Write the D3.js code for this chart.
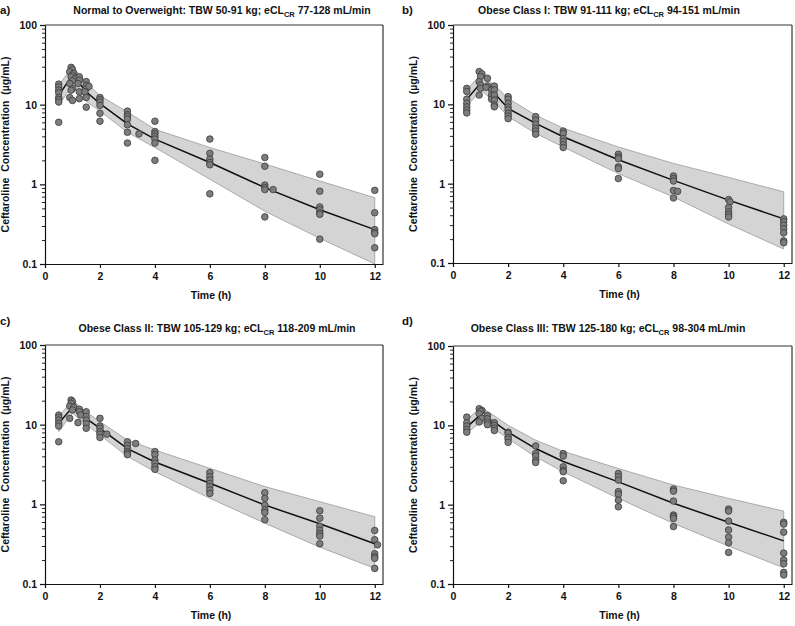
<!DOCTYPE html>
<html><head><meta charset="utf-8">
<script src="https://cdn.jsdelivr.net/npm/d3@7/dist/d3.min.js"></script>
<style>body{margin:0;background:#fff;}svg{display:block;font-family:"Liberation Sans",Arial,sans-serif;}</style>
</head><body>
<svg id="chart" width="795" height="626"></svg>
<script>
// ---------- data ----------
const predTimes = [0.5, 1, 1.5, 2, 3, 4, 6, 8, 10, 12];
const xTicks = [0, 2, 4, 6, 8, 10, 12];
const yTicks = [0.1, 1, 10, 100];
const yTickLabels = ["0.1", "1", "10", "100"];

const panelLabels = ["a)", "b)", "c)", "d)"];
const titleMain = ["Normal to Overweight: TBW 50-91 kg; eCL", "Obese Class I: TBW 91-111 kg; eCL", "Obese Class II: TBW 105-129 kg; eCL", "Obese Class III: TBW 125-180 kg; eCL"];
const titleSub = ["CR", "CR", "CR", "CR"];
const titleTail = [" 77-128 mL/min", " 94-151 mL/min", " 118-209 mL/min", " 98-304 mL/min"];

// Model median and 90% prediction interval
const medianA = [13.1, 23.5, 14.5, 10.3, 5.75, 3.7, 1.88, 0.91, 0.48, 0.27];
const upperA  = [17.6, 30.0, 19.0, 13.0, 8.1, 4.9, 2.9, 1.8, 1.1, 0.68];
const lowerA  = [9.8, 17.6, 11.0, 8.3, 4.5, 2.9, 1.16, 0.46, 0.21, 0.10];

const medianB = [11.6, 18.4, 13.8, 8.9, 5.75, 3.9, 2.0, 1.1, 0.62, 0.36];
const upperB  = [15.2, 23.6, 17.5, 11.9, 7.3, 5.0, 2.9, 1.8, 1.2, 0.79];
const lowerB  = [9.3, 15.2, 10.8, 7.0, 4.3, 2.9, 1.34, 0.68, 0.31, 0.15];

const medianC = [10.4, 16.5, 12.0, 9.0, 5.0, 3.4, 1.84, 0.98, 0.57, 0.32];
const upperC  = [12.6, 20.4, 14.5, 10.9, 6.4, 4.8, 2.83, 1.67, 1.08, 0.70];
const lowerC  = [8.2, 13.9, 10.0, 7.4, 4.0, 2.57, 1.19, 0.58, 0.29, 0.157];

const medianD = [9.5, 13.6, 11.0, 8.2, 5.1, 3.5, 1.94, 1.04, 0.60, 0.35];
const upperD  = [11.6, 17.0, 13.2, 10.0, 6.5, 4.7, 2.86, 1.77, 1.2, 0.83];
const lowerD  = [7.9, 11.0, 9.0, 6.8, 4.0, 2.6, 1.2, 0.58, 0.30, 0.16];

// Observed concentrations [time (h), conc (ug/mL)]
const obsA = [
 [0.5,18.1],[0.5,16.7],[0.5,15.2],[0.5,14.1],[0.5,12.3],[0.5,11.6],[0.5,10.8],[0.5,6.0],
 [0.95,29.4],[1.0,27.7],[0.9,25.9],[1.05,24.7],[1.0,23.5],[0.95,22.4],[1.1,21.3],[1.0,19.9],[0.9,18.4],[1.0,15.9],[0.95,15.2],[0.9,12.3],[1.0,11.3],
 [1.25,22.4],[1.25,20.3],[1.2,18.4],[1.25,14.5],[1.25,11.9],
 [1.5,19.5],[1.5,17.5],[1.5,15.9],[1.45,14.5],[1.5,12.3],[1.5,9.3],[1.6,17.0],
 [2,12.3],[2,11.6],[2,10.8],[2,9.8],[2,7.8],[2,6.2],
 [3,8.3],[3,7.5],[3,7.1],[3,6.6],[3,5.6],[3,4.5],[3,3.3],[3.42,4.3],
 [4,6.2],[4,4.6],[4,4.3],[4,4.0],[4,3.7],[4,3.3],[4,2.0],
 [6,3.7],[6,2.45],[6,2.07],[6,1.88],[6,1.76],[6,0.76],
 [8,2.17],[8,1.69],[8,0.98],[8,0.91],[8,0.86],[8,0.39],[8.3,0.86],
 [10,1.34],[10,0.82],[10,0.52],[10,0.48],[10,0.44],[10,0.42],[10,0.205],
 [12,0.84],[12,0.44],[12,0.27],[12,0.25],[12,0.24],[12,0.16]
];
const obsB = [
 [0.5,15.9],[0.5,14.5],[0.5,11.6],[0.5,10.3],[0.5,9.3],[0.5,8.5],[0.5,7.8],
 [0.95,25.9],[1.05,24.2],[1.0,22.4],[0.95,19.3],[1.0,17.5],[1.0,15.9],[0.95,13.1],
 [1.25,21.3],[1.25,17.0],[1.2,16.4],
 [1.4,15.2],[1.4,13.1],[1.4,11.6],
 [1.5,17.0],[1.5,15.2],[1.5,13.1],[1.5,11.3],[1.5,9.8],[1.5,9.3],
 [2,12.5],[2,11.6],[2,10.3],[2,9.2],[2,8.5],[2,7.7],[2,7.1],[2,6.6],
 [3,7.0],[3,6.3],[3,5.6],[3,5.0],[3,4.6],[3,4.2],
 [4,4.6],[4,4.3],[4,3.7],[4,3.4],[4,3.1],[4,2.85],
 [6,2.35],[6,2.17],[6,2.07],[6,1.63],[6,1.55],[6,1.16],
 [8,1.25],[8,1.16],[8,1.08],[8,0.82],[8.15,0.80],[8,0.66],
 [10,0.63],[10.05,0.59],[10,0.50],[10,0.44],[10,0.41],[10,0.38],
 [12,0.36],[12,0.33],[12,0.30],[12,0.27],[12,0.24],[12,0.19],[12,0.18]
];
const obsC = [
 [0.5,13.2],[0.5,12.3],[0.5,11.4],[0.5,10.4],[0.5,9.6],[0.5,6.1],
 [0.95,20.4],[1.0,19.4],[0.95,18.5],[0.9,17.1],[1.05,16.5],[1.0,15.3],[0.9,12.0],
 [1.25,15.6],[1.25,14.5],[1.3,13.2],[1.2,10.6],
 [1.5,14.5],[1.5,12.6],[1.5,11.4],[1.5,10.2],[1.5,9.0],
 [2,12.0],[2,9.6],[2,9.0],[2,8.2],[2,7.6],[2,6.9],[2.25,7.6],
 [3,6.1],[3,5.5],[3,5.0],[3,4.6],[3,4.4],[3,4.2],[3.3,5.8],
 [4,4.6],[4,4.2],[4,3.6],[4,3.27],[4,2.97],[4,2.75],
 [6,2.5],[6,2.22],[6,2.02],[6,1.83],[6,1.67],[6,1.51],[6,1.37],
 [8,1.40],[8,1.19],[8,0.98],[8,0.85],[8,0.79],[8,0.64],
 [10,0.83],[10,0.67],[10,0.53],[10,0.47],[10,0.43],[10,0.40],[10,0.32],
 [12,0.47],[12,0.36],[12.1,0.31],[12,0.24],[12,0.22],[12,0.21],[12,0.157]
];
const obsD = [
 [0.5,12.7],[0.5,10.8],[0.5,9.8],[0.5,8.9],[0.5,8.2],
 [0.95,16.2],[1.05,15.4],[1.0,15.0],[0.95,14.0],[1.05,12.3],[0.95,11.0],
 [1.25,13.3],[1.25,12.1],[1.25,11.0],[1.25,10.2],
 [1.5,10.8],[1.5,10.0],[1.5,9.2],[1.5,8.6],
 [2,8.2],[2,7.9],[2,7.1],[2,6.7],[2,6.1],
 [3,5.5],[3,4.4],[3,4.1],[3,3.6],[3,3.4],
 [4,4.4],[4,4.1],[4,3.0],[4,2.7],[4,2.6],[4,2.0],
 [6,2.47],[6,2.25],[6,2.04],[6,1.46],[6,1.35],[6,1.14],[6,0.94],
 [8,1.57],[8,1.48],[8,1.11],[8,0.74],[8,0.71],[8,0.67],[8,0.53],
 [10,0.88],[10,0.83],[10,0.62],[10,0.48],[10,0.39],[10,0.33],[10,0.25],
 [12,0.60],[12,0.57],[12,0.45],[12,0.245],[12,0.20],[12,0.18],[12,0.14],[12,0.13]
];

const medians = [medianA, medianB, medianC, medianD];
const uppers = [upperA, upperB, upperC, upperD];
const lowers = [lowerA, lowerB, lowerC, lowerD];
const observed = [obsA, obsB, obsC, obsD];

// ---------- layout ----------
const panels = [
  {left: 45, right: 383, top: 25, bottom: 264, tx: 222, ty: 14, lx: 0, ly: 14},
  {left: 453, right: 792, top: 25, bottom: 263, tx: 609, ty: 14, lx: 402, ly: 14},
  {left: 45, right: 383, top: 345, bottom: 584, tx: 217, ty: 332, lx: 0, ly: 325},
  {left: 453, right: 792, top: 346, bottom: 584, tx: 608, ty: 332, lx: 402, ly: 325}
];

const svg = d3.select("#chart");
const FONT = "Liberation Sans, Arial, sans-serif";

panels.forEach((p, i) => {
  const x = d3.scaleLinear().domain([0, 12.3]).range([p.left, p.right]);
  const y = d3.scaleLog().domain([0.1, 100]).range([p.bottom, p.top]);
  const g = svg.append("g");

  // band
  const band = predTimes.map((t, k) => ({t, lo: lowers[i][k], hi: uppers[i][k]}));
  g.append("path").datum(band)
    .attr("d", d3.area().x(d => x(d.t)).y0(d => y(d.lo)).y1(d => y(d.hi)))
    .attr("fill", "#d4d4d4").attr("stroke", "#9a9a9a").attr("stroke-width", 0.8);

  // median
  g.append("path").datum(predTimes.map((t, k) => ({t, v: medians[i][k]})))
    .attr("d", d3.line().x(d => x(d.t)).y(d => y(d.v)))
    .attr("fill", "none").attr("stroke", "#111").attr("stroke-width", 1.5);

  // points
  g.selectAll("circle.obs").data(observed[i]).join("circle")
    .attr("class", "obs")
    .attr("cx", d => x(d[0])).attr("cy", d => y(d[1])).attr("r", 3.3)
    .attr("fill", "#7d7d7d").attr("stroke", "#3a3a3a").attr("stroke-width", 0.8);

  // frame top & right
  g.append("line").attr("x1", p.left).attr("x2", p.right).attr("y1", p.top).attr("y2", p.top)
    .attr("stroke", "#333").attr("stroke-width", 1.2);
  g.append("line").attr("x1", p.right).attr("x2", p.right).attr("y1", p.top).attr("y2", p.bottom)
    .attr("stroke", "#333").attr("stroke-width", 1.2);

  // x axis
  const xa = g.append("g").attr("transform", `translate(0,${p.bottom})`)
    .call(d3.axisBottom(x).tickValues(xTicks).tickSize(4).tickSizeOuter(0).tickPadding(5).tickFormat(d3.format("d")));
  xa.select(".domain").attr("stroke", "#111").attr("stroke-width", 1.2);
  xa.selectAll(".tick line").attr("stroke", "#111").attr("stroke-width", 1.2);
  xa.selectAll("text").attr("font-size", 10.5).attr("font-weight", "bold").attr("fill", "#111")
    .attr("font-family", FONT);

  // y axis major
  const ya = g.append("g").attr("transform", `translate(${p.left},0)`)
    .call(d3.axisLeft(y).tickValues(yTicks).tickSize(5).tickSizeOuter(0).tickPadding(3)
      .tickFormat((d, k) => yTickLabels[k]));
  ya.select(".domain").attr("stroke", "#111").attr("stroke-width", 1.2);
  ya.selectAll(".tick line").attr("stroke", "#111").attr("stroke-width", 1.2);
  ya.selectAll("text").attr("font-size", 10.5).attr("font-weight", "bold").attr("fill", "#111")
    .attr("font-family", FONT);
  // y axis minor
  const minor = [];
  [0.1, 1, 10].forEach(b => { for (let m = 2; m <= 9; m++) minor.push(b * m); });
  g.append("g").attr("transform", `translate(${p.left},0)`)
    .call(d3.axisLeft(y).tickValues(minor).tickSize(3).tickSizeOuter(0).tickFormat(""))
    .call(s => s.select(".domain").remove())
    .selectAll(".tick line").attr("stroke", "#111").attr("stroke-width", 0.9);

  // axis titles
  g.append("text").attr("x", (p.left + p.right) / 2 - 3).attr("y", p.bottom + 35)
    .attr("text-anchor", "middle").attr("font-size", 10.5).attr("font-weight", "bold").attr("fill", "#111")
    .text("Time (h)");
  g.append("text").attr("transform", `translate(${p.left - 36},${(p.top + p.bottom) / 2}) rotate(-90)`)
    .attr("text-anchor", "middle").attr("font-size", 10.5).attr("font-weight", "bold").attr("fill", "#111")
    .attr("xml:space", "preserve")
    .text("Ceftaroline  Concentration  (\u00b5g/mL)");

  // panel title
  const t = g.append("text").attr("x", p.tx).attr("y", p.ty).attr("text-anchor", "middle")
    .attr("font-size", 10.5).attr("font-weight", "bold").attr("fill", "#111");
  t.append("tspan").text(titleMain[i]);
  t.append("tspan").attr("font-size", 7.5).attr("dy", 2.5).text(titleSub[i]);
  t.append("tspan").attr("dy", -2.5).text(titleTail[i]);

  // panel label
  g.append("text").attr("x", p.lx).attr("y", p.ly).attr("font-size", 11.5).attr("font-weight", "bold")
    .attr("fill", "#111").text(panelLabels[i]);
});
</script>
</body></html>
